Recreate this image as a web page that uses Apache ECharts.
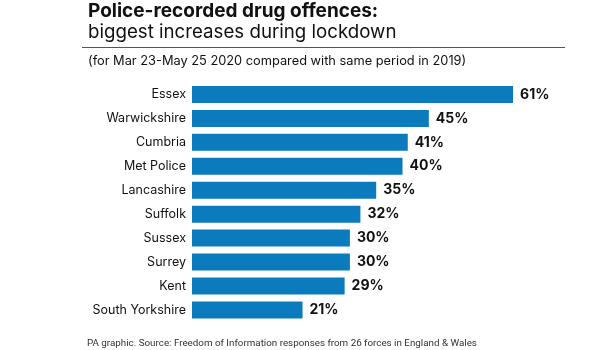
<!DOCTYPE html>
<html>
<head>
<meta charset="utf-8">
<script src="https://cdn.jsdelivr.net/npm/echarts@6/dist/echarts.min.js"></script>
<style>html,body{margin:0;padding:0;background:#fff}#c{width:600px;height:350px}</style>
</head>
<body>
<div id="c"></div>
<script>
var categories = ['Essex','Warwickshire','Cumbria','Met Police','Lancashire','Suffolk','Sussex','Surrey','Kent','South Yorkshire'];
var values = [61,45,41,40,35,32,30,30,29,21];

var FONT = 'Inter';
var chart = echarts.init(document.getElementById('c'));
chart.setOption({
  animation: false,
  backgroundColor: '#fff',
  title: [
    {text: 'Police-recorded drug offences:', left: 88, top: 2, padding: 0,
     textStyle: {fontFamily: FONT, fontSize: 19, fontWeight: 'bold', color: '#111'}},
    {text: 'biggest increases during lockdown', left: 88, top: 23, padding: 0,
     textStyle: {fontFamily: FONT, fontSize: 18.7, fontWeight: 'normal', color: '#111'}},
    {text: '(for Mar 23-May 25 2020 compared with same period in 2019)', left: 88, top: 55, padding: 0,
     textStyle: {fontFamily: FONT, fontSize: 12.8, fontWeight: 'normal', color: '#111'}},
    {text: 'PA graphic. Source: Freedom of Information responses from 26 forces in England & Wales', left: 87, top: 339, padding: 0,
     textStyle: {fontFamily: 'Roboto', fontSize: 9.8, fontWeight: 'normal', color: '#333'}}
  ],
  graphic: [
    {type: 'line', shape: {x1: 82, y1: 47.5, x2: 565, y2: 47.5}, style: {stroke: '#555', lineWidth: 1}}
  ],
  grid: {left: 192, top: 82.5, height: 239.4, width: 368.4, containLabel: false},
  xAxis: {type: 'value', min: 0, max: 70, show: false},
  yAxis: {type: 'category', data: categories, inverse: true,
    axisLine: {show: false}, axisTick: {show: false},
    axisLabel: {margin: 6, fontFamily: FONT, fontSize: 12.5, color: '#111'}},
  series: [{
    type: 'bar', data: values, barWidth: 17,
    itemStyle: {color: '#0b7bbd'},
    label: {show: true, position: 'right', distance: 7, formatter: '{c}%',
      fontFamily: FONT, fontSize: 14, fontWeight: 'bold', color: '#111'}
  }]
});
</script>
</body>
</html>
